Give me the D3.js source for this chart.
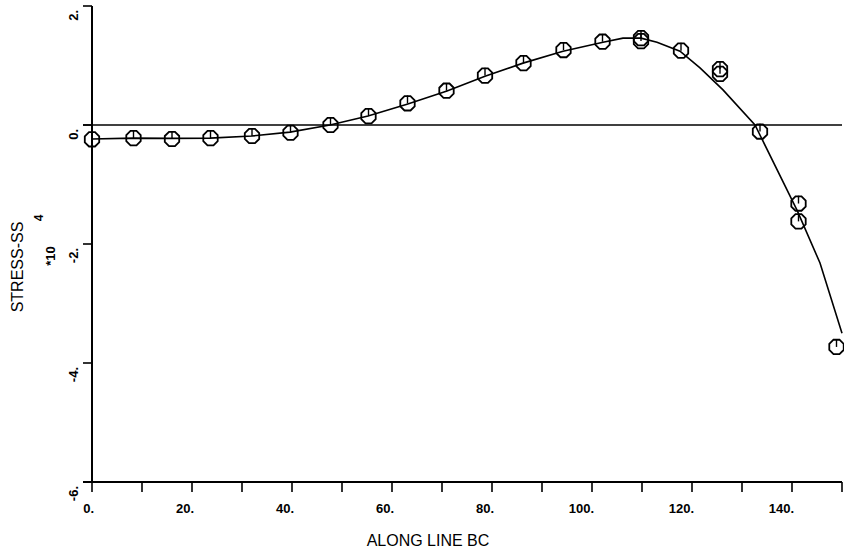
<!DOCTYPE html>
<html>
<head>
<meta charset="utf-8">
<script src="https://cdn.jsdelivr.net/npm/d3@7/dist/d3.min.js"></script>
<style>
  html, body { margin: 0; padding: 0; background: #fff; }
  svg { display: block; font-family: "Liberation Sans", Arial, Helvetica, sans-serif; }
</style>
</head>
<body>
<svg id="chart" width="844" height="555"></svg>
<script>
// Measured stress samples along line BC (units of 10^4)
const sampleX = [0, 8.3, 16, 23.7, 32, 39.7, 47.7, 55.3, 63.1, 70.9, 78.6, 86.3, 94.3, 102.1,
                 109.8, 109.8, 117.8, 125.6, 125.6, 133.6, 141.3, 141.3, 148.9];
const sampleY = [-0.24, -0.22, -0.235, -0.22, -0.185, -0.13, 0.0, 0.15, 0.365, 0.576, 0.83, 1.04, 1.26, 1.40,
                 1.46, 1.41, 1.25, 0.94, 0.86, -0.11, -1.32, -1.62, -3.73];

// Fitted curve through the samples
const fitX = [0, 8.2, 16, 23.6, 32, 39.6, 47.6, 55.2, 63, 71, 78.6, 86.2, 94.2, 102.2,
              106.2, 109.8, 113, 117.6, 121.6, 126.2, 132.6, 141, 145.6, 150];
const fitY = [-0.235, -0.22, -0.225, -0.22, -0.185, -0.12, 0, 0.15, 0.35, 0.57, 0.82, 1.04, 1.24, 1.39,
              1.46, 1.46, 1.39, 1.24, 0.96, 0.59, 0, -1.43, -2.32, -3.5];

// Axis ticks and labels
const xTicks = d3.range(0, 151, 10);
const xLabels = [0, 20, 40, 60, 80, 100, 120, 140];
const yTicks = [2, 0, -2, -4, -6];

const svg = d3.select("#chart");
svg.append("rect").attr("width", 844).attr("height", 555).attr("fill", "#fff");

const x = d3.scaleLinear().domain([0, 150]).range([92, 842]);
const y = d3.scaleLinear().domain([-6, 2]).range([482, 6]);

const ink = "#000";

// Y axis
const yAxis = svg.append("g").attr("transform", `translate(${x(0)},0)`);
yAxis.append("line").attr("x1", 0).attr("x2", 0).attr("y1", y(2)).attr("y2", y(-6))
  .attr("stroke", ink).attr("stroke-width", 2);
yAxis.selectAll("line.tick").data(yTicks).join("line").attr("class", "tick")
  .attr("x1", -9).attr("x2", 0).attr("y1", d => y(d)).attr("y2", d => y(d))
  .attr("stroke", ink).attr("stroke-width", 1.6);
yAxis.selectAll("text").data(yTicks).join("text")
  .attr("transform", d => `translate(-14,${y(d) + 4}) rotate(-90)`)
  .attr("text-anchor", "end")
  .attr("font-size", 13).attr("font-weight", "bold")
  .text(d => d + ".");

// X axis
const xAxis = svg.append("g").attr("transform", `translate(0,${y(-6)})`);
xAxis.append("line").attr("x1", x(0) - 9).attr("x2", x(150)).attr("y1", 0).attr("y2", 0)
  .attr("stroke", ink).attr("stroke-width", 2);
xAxis.selectAll("line.tick").data(xTicks).join("line").attr("class", "tick")
  .attr("x1", d => x(d)).attr("x2", d => x(d)).attr("y1", 0).attr("y2", 10)
  .attr("stroke", ink).attr("stroke-width", 1.6);
xAxis.selectAll("text").data(xLabels).join("text")
  .attr("x", d => x(d) + 2).attr("y", 31)
  .attr("text-anchor", "end")
  .attr("font-size", 13).attr("font-weight", "bold")
  .text(d => d + ".");

// Axis titles
svg.append("text").attr("x", 428).attr("y", 546).attr("text-anchor", "middle")
  .attr("font-size", 16).text("ALONG LINE BC");
svg.append("text").attr("transform", "translate(23,267) rotate(-90)").attr("text-anchor", "middle")
  .attr("font-size", 16).text("STRESS-SS");
svg.append("text").attr("transform", "translate(43,218) rotate(-90)").attr("text-anchor", "middle")
  .attr("font-size", 12).attr("font-weight", "bold").text("4");
svg.append("text").attr("transform", "translate(55,256) rotate(-90)").attr("text-anchor", "middle")
  .attr("font-size", 13).attr("font-weight", "bold").text("*10");

// Zero reference line
svg.append("line").attr("x1", x(0) - 9).attr("x2", x(150)).attr("y1", y(0)).attr("y2", y(0))
  .attr("stroke", ink).attr("stroke-width", 1.5);

// Fitted curve
const fit = fitX.map((v, i) => [v, fitY[i]]);
svg.append("path").datum(fit)
  .attr("d", d3.line().x(d => x(d[0])).y(d => y(d[1])))
  .attr("fill", "none").attr("stroke", ink).attr("stroke-width", 1.6);

// Octagon markers with a vertical stroke from top to centre
const r = 7.8;
const oct = d3.range(8).map(k => {
  const a = Math.PI / 8 + k * Math.PI / 4;
  return [r * Math.cos(a), r * Math.sin(a)];
});
const octPath = "M" + oct.map(p => p.join(",")).join("L") + "Z";
const samples = sampleX.map((v, i) => [v, sampleY[i]]);
const mk = svg.append("g").selectAll("g").data(samples).join("g")
  .attr("transform", d => `translate(${x(d[0])},${y(d[1])})`);
mk.append("path").attr("d", octPath).attr("fill", "none").attr("stroke", ink).attr("stroke-width", 1.8);
mk.append("line").attr("x1", 0).attr("x2", 0).attr("y1", -r).attr("y2", 0)
  .attr("stroke", ink).attr("stroke-width", 1.4);
</script>
</body>
</html>
